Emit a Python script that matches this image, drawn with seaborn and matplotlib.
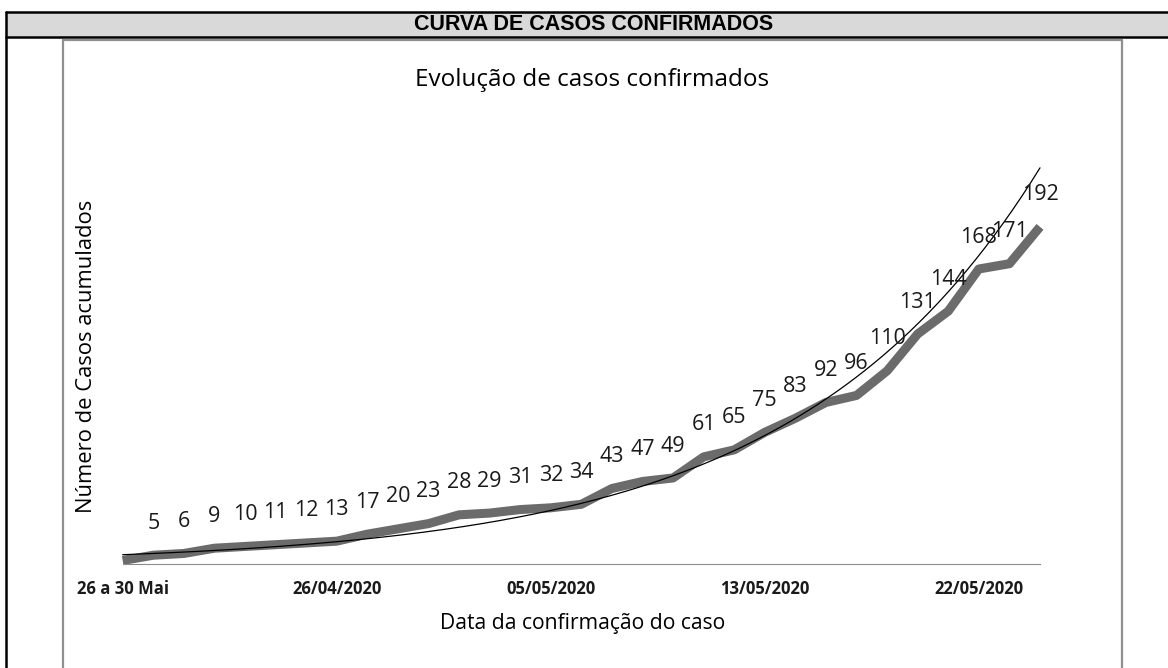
import numpy as np
import pandas as pd
import matplotlib
matplotlib.use("Agg")
import matplotlib.pyplot as plt
import seaborn as sns
from matplotlib.patches import Rectangle
from matplotlib.lines import Line2D

# valores (casos acumulados)
casos = [2, 5, 6, 9, 10, 11, 12, 13, 17, 20, 23, 28, 29, 31, 32, 34,
         43, 47, 49, 61, 65, 75, 83, 92, 96, 110, 131, 144, 168, 171, 192]
# rotulos de dados (o primeiro ponto nao tem rotulo)
rotulos = [""] + [str(v) for v in casos[1:]]
# rotulos do eixo x, so alguns aparecem
datas = (["26 a 30 Mai"] + [""] * 6 + ["26/04/2020"] + [""] * 6 + ["05/05/2020"]
         + [""] * 6 + ["13/05/2020"] + [""] * 6 + ["22/05/2020"] + [""] * 2)

titulo_tabela = "CURVA DE CASOS CONFIRMADOS"
titulo = "Evolução de casos confirmados"
eixo_x = "Data da confirmação do caso"
eixo_y = "Número de Casos acumulados"

df = pd.DataFrame({"pos": np.arange(len(casos)), "casos": casos})

# linha de tendencia exponencial (ajuste em log, como no excel)
coef = np.polyfit(df["pos"], np.log(df["casos"]), 1)
xs = np.linspace(0, len(casos) - 1, 300)
tend = pd.DataFrame({"pos": xs, "casos": np.exp(np.polyval(coef, xs))})

sns.set_style("white")
plt.rcParams["font.family"] = ["Open Sans", "DejaVu Sans"]

W, H = 1168, 668
fig = plt.figure(figsize=(W / 100, H / 100), dpi=100)


def fx(x):
    return x / W


def fy(y):
    return 1 - y / H


# cabecalho da tabela
fig.patches.append(Rectangle((fx(6), fy(37)), 1.01 - fx(6), fy(12) - fy(37),
                             transform=fig.transFigure, facecolor="#d9d9d9",
                             edgecolor="none"))
for seg in [((6, 1175), (12, 12)), ((6, 1175), (37, 37)), ((6, 6), (12, 675))]:
    fig.add_artist(Line2D([fx(v) for v in seg[0]], [fy(v) for v in seg[1]],
                          color="black", lw=1.8))
fig.text(fx(594), fy(24.5), titulo_tabela, ha="center", va="center",
         fontsize=15.5, fontweight="bold", color="black",
         family=["Liberation Sans Narrow", "Liberation Sans"])

# moldura do grafico
for seg in [((63, 63), (40, 675)), ((63, 1122), (40, 40)), ((1122, 1122), (40, 675))]:
    fig.add_artist(Line2D([fx(v) for v in seg[0]], [fy(v) for v in seg[1]],
                          color="#8f8f8f", lw=1.6))

ax = fig.add_axes([fx(122.7), fy(564), fx(1040) - fx(122.7), fy(125) - fy(564)])

sns.lineplot(data=df, x="pos", y="casos", ax=ax, color="#6b6b6b", lw=6.5,
             solid_capstyle="butt", clip_on=False)
sns.lineplot(data=tend, x="pos", y="casos", ax=ax, color="black", lw=0.9,
             clip_on=False)

for i, (v, r) in enumerate(zip(casos, rotulos)):
    if r:
        ax.annotate(r, (i, v), xytext=(0, 23), textcoords="offset points",
                    ha="center", va="center", fontsize=15.5, color="#1a1a1a")

ax.set_xlim(0, len(casos) - 1)
ax.set_ylim(0, 250)
ax.set_xticks(df["pos"])
ax.set_xticklabels(datas, fontsize=12, fontweight="bold", color="#1a1a1a")
ax.set_yticks([])
ax.tick_params(axis="x", direction="out", length=5, width=0.8, color="#8c8c8c", pad=6.5)
ax.set_xlabel("")
ax.set_ylabel("")
for s in ["top", "right", "left"]:
    ax.spines[s].set_visible(False)
ax.spines["bottom"].set_color("#8c8c8c")
ax.spines["bottom"].set_linewidth(0.8)
ax.patch.set_alpha(0)

fig.text(fx(592), fy(80), titulo, ha="center", va="center", fontsize=17.5,
         color="black")
fig.text(fx(583), fy(623), eixo_x, ha="center", va="center", fontsize=15.2,
         color="black")
fig.text(fx(87), fy(356), eixo_y, ha="center", va="center", fontsize=15.8,
         rotation=90, color="black")

fig.savefig("out.png", dpi=100)
